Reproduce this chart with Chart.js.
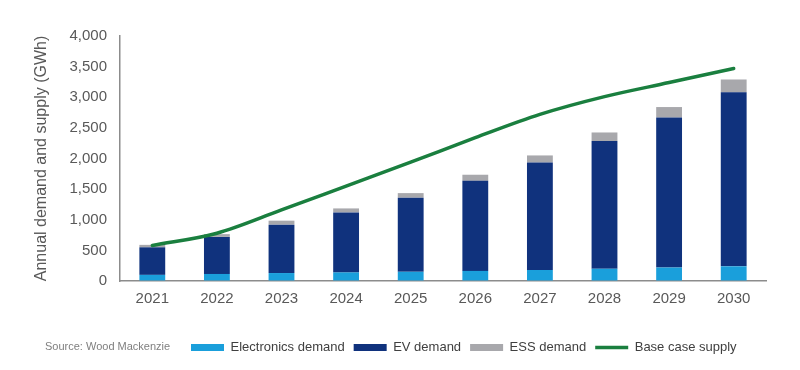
<!DOCTYPE html>
<html>
<head>
<meta charset="utf-8">
<script src="https://cdn.jsdelivr.net/npm/chart.js@4"></script>
<style>
  html, body { margin: 0; padding: 0; background: #fff; }
  #wrap { width: 800px; height: 370px; }
</style>
</head>
<body>
<div id="wrap"><canvas id="chart" width="800" height="370"></canvas></div>
<script>
const YEARS = ['2021', '2022', '2023', '2024', '2025', '2026', '2027', '2028', '2029', '2030'];
const ELECTRONICS = [100, 115, 130, 140, 150, 165, 180, 200, 220, 240];
const EV = [450, 605, 790, 980, 1210, 1470, 1755, 2085, 2450, 2840];
const ESS = [40, 45, 65, 65, 75, 100, 115, 140, 170, 210];
const SUPPLY = [580, 780, 1160, 1550, 1940, 2340, 2720, 3010, 3240, 3470];
const SOURCE = 'Source: Wood Mackenzie';

const FONT = "'Liberation Sans', Arial, sans-serif";
const GREY_TEXT = '#595959';

// legend sits right of the source note, not centred under the chart
const legendShift = {
  id: 'legendShift',
  afterLayout(chart) {
    chart.legend.left = 191 - chart.legend.options.labels.padding;
  },
  afterDraw(chart) {
    const ctx = chart.ctx;
    ctx.save();
    ctx.font = '11px ' + FONT;
    ctx.fillStyle = '#7f7f7f';
    ctx.textBaseline = 'middle';
    ctx.fillText(SOURCE, 45, 347);
    ctx.restore();
  }
};

new Chart(document.getElementById('chart'), {
  data: {
    labels: YEARS,
    datasets: [
      { type: 'bar', label: 'Electronics demand', data: ELECTRONICS, backgroundColor: '#1a9fdb', pointStyle: 'rect', order: 1 },
      { type: 'bar', label: 'EV demand', data: EV, backgroundColor: '#10327d', pointStyle: 'rect', order: 1 },
      { type: 'bar', label: 'ESS demand', data: ESS, backgroundColor: '#a8a8ac', pointStyle: 'rect', order: 1 },
      {
        type: 'line', label: 'Base case supply', data: SUPPLY,
        borderColor: '#1a7f3f', backgroundColor: '#1a7f3f', borderWidth: 3.5,
        borderCapStyle: 'round', pointRadius: 0, pointStyle: 'line',
        cubicInterpolationMode: 'monotone', order: 0
      }
    ]
  },
  options: {
    responsive: false,
    animation: false,
    layout: { padding: { top: 36, right: 34, bottom: 6, left: 0 } },
    datasets: { bar: { barPercentage: 0.4, categoryPercentage: 1 } },
    scales: {
      x: {
        stacked: true,
        grid: { drawOnChartArea: false, drawTicks: false },
        border: { color: '#8c8c8c', width: 1.5 },
        ticks: { color: GREY_TEXT, font: { family: FONT, size: 15 }, padding: 9 },
        afterFit: (s) => { s.height = 51; }
      },
      y: {
        stacked: true,
        min: 0, max: 4000,
        grid: { drawOnChartArea: false, drawTicks: false },
        border: { color: '#8c8c8c', width: 1.5 },
        ticks: {
          stepSize: 500, color: GREY_TEXT, padding: 13,
          font: { family: FONT, size: 15 },
          callback: (v) => v.toLocaleString('en-US')
        },
        title: {
          display: true, text: 'Annual demand and supply (GWh)',
          color: GREY_TEXT, font: { family: FONT, size: 16 },
          padding: { top: 32, bottom: 0 }
        },
        afterFit: (s) => { s.width = 120; }
      }
    },
    plugins: {
      tooltip: { enabled: false },
      legend: {
        position: 'bottom',
        align: 'start',
        labels: {
          usePointStyle: true, pointStyleWidth: 33, boxHeight: 7,
          padding: 9, color: '#404040',
          font: { family: FONT, size: 13 },
          sort: (a, b) => a.datasetIndex - b.datasetIndex
        }
      }
    }
  },
  plugins: [legendShift]
});
</script>
</body>
</html>
